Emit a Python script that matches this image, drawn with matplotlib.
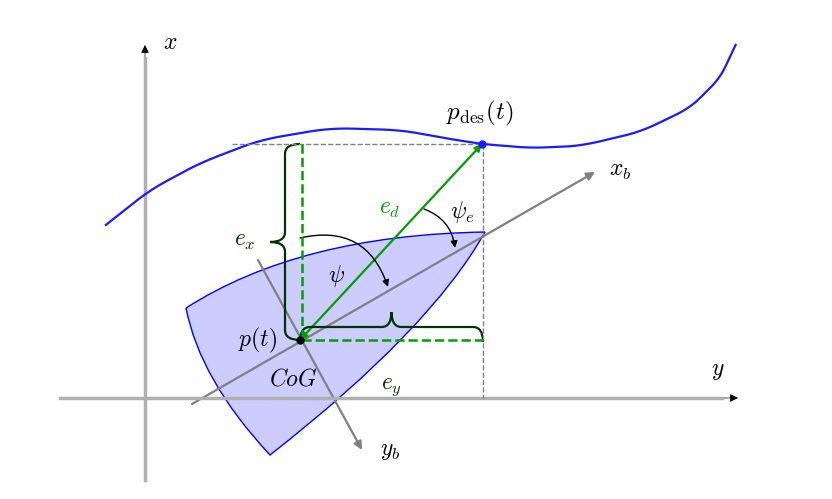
import matplotlib
matplotlib.use("Agg")
import matplotlib.pyplot as plt
import numpy as np
from matplotlib.patches import PathPatch, FancyArrowPatch, Polygon
from matplotlib.path import Path

plt.rcParams['mathtext.fontset'] = 'cm'

curve_x = [102, 150, 200, 260, 330, 400, 450, 482, 530, 580, 640, 690, 720, 737]
curve_y = [228, 190, 163, 140, 128, 130, 139, 144, 148, 146, 132, 108, 78, 42]
cog = (300, 340)
pdes = (482, 144)

fig = plt.figure(figsize=(8.32, 4.99), dpi=100)
ax = fig.add_axes([0, 0, 1, 1])
ax.set_xlim(0, 832); ax.set_ylim(499, 0); ax.axis('off')

def arrow(p0, p1, color, lw=1.6, style='-|>', ms=12, **kw):
    ax.add_patch(FancyArrowPatch(p0, p1, arrowstyle=style, mutation_scale=ms,
                                 color=color, lw=lw, shrinkA=0, shrinkB=0, **kw))

# world axes
ax.plot([145, 145], [480, 58], color='#b0b0b0', lw=2.5)
arrow((145, 62), (145, 45), 'black', lw=0.5)
ax.plot([60, 722], [398, 398], color='#b0b0b0', lw=2.5)
arrow((720, 398), (738, 398), 'black', lw=0.5)
ax.text(170, 42, r'$x$', fontsize=17, va='center', ha='center')
ax.text(718, 370, r'$y$', fontsize=17, va='center', ha='center')

# boat
verts = [(186, 308), (300, 235), (485, 232), (430, 330), (270, 455), (200, 380), (186, 308)]
codes = [Path.MOVETO, Path.CURVE3, Path.CURVE3, Path.CURVE3, Path.CURVE3, Path.CURVE3, Path.CURVE3]
ax.add_patch(PathPatch(Path(verts, codes), facecolor='#ccccff', edgecolor='blue', lw=1))

# path curve
xs = np.array(curve_x, float); ys = np.array(curve_y, float)
t = np.linspace(0, 1, len(xs)); tt = np.linspace(0, 1, 300)
from numpy.polynomial import polynomial as P
cx = np.interp(tt, t, xs); cy = np.interp(tt, t, ys)
k = np.ones(15) / 15
cxs = np.convolve(np.pad(cx, 7, mode='edge'), k, 'valid')
cys = np.convolve(np.pad(cy, 7, mode='edge'), k, 'valid')
ax.plot(cxs, cys, color='#1a1aff', lw=1.6)

# dashed gray
ax.plot([232, 482], [144, 144], '--', color='gray', lw=1)
ax.plot([483, 483], [144, 398], '--', color='gray', lw=1)
# green dashed
ax.plot([302, 302], [144, 340], '--', color='#00a000', lw=1.8)
ax.plot([302, 483], [340, 340], '--', color='#00a000', lw=1.8)

# body axes
arrow((192, 404), (595, 172), 'gray')
arrow((258, 260), (362, 450), 'gray')
ax.text(620, 170, r'$x_b$', fontsize=17, va='center', ha='center')
ax.text(390, 450, r'$y_b$', fontsize=17, va='center', ha='center')

# e_d
arrow(cog, pdes, '#00a000', style='<|-|>', ms=10)
ax.text(390, 208, r'$e_d$', fontsize=17, color='#00a000', va='center', ha='center')

# braces
def brace_v(x, y0, y1, d):
    ym = (y0 + y1) / 2
    v = [(x, y0), (x + d, y0), (x + d, y0 + 10), (x + d, ym - 10), (x + d, ym), (x, ym),
         (x + d, ym), (x + d, ym + 10), (x + d, y1 - 10), (x + d, y1), (x, y1)]
    c = [Path.MOVETO, Path.CURVE3, Path.CURVE3, Path.LINETO, Path.CURVE3, Path.CURVE3,
         Path.MOVETO, Path.CURVE3, Path.CURVE3, Path.LINETO, Path.CURVE3, Path.CURVE3][:1] 
    v = [(x + d * 0 + 22 * 0, y0)]
def brace(p0, p1, depth):
    p0 = np.array(p0, float); p1 = np.array(p1, float)
    u = (p1 - p0) / np.linalg.norm(p1 - p0)
    n = np.array([-u[1], u[0]]) * depth
    L = np.linalg.norm(p1 - p0); m = (p0 + p1) / 2
    r = 10
    pts = [p0, p0 + n * 0.5, p0 + n * 0.5 + u * r, m + n * 0.5 - u * r, m + n * 0.5, m + n,
           m + n * 0.5, m + n * 0.5 + u * r, p1 + n * 0.5 - u * r, p1 + n * 0.5, p1]
    c = [Path.MOVETO, Path.CURVE3, Path.CURVE3, Path.LINETO, Path.CURVE3, Path.CURVE3,
         Path.MOVETO, Path.CURVE3, Path.CURVE3, Path.LINETO, Path.CURVE3, Path.CURVE3]
    pts = pts[:6] + [m + n] + pts[6:]
    c = [Path.MOVETO, Path.CURVE3, Path.CURVE3, Path.LINETO, Path.CURVE3, Path.CURVE3,
         Path.MOVETO, Path.CURVE3, Path.CURVE3, Path.LINETO, Path.CURVE3, Path.CURVE3]
    pts = [p0, p0 + n * 0.5, p0 + n * 0.5 + u * r, m + n * 0.5 - u * r, m + n * 0.5, m + n,
           m + n, m + n * 0.5, m + n * 0.5 + u * r, p1 + n * 0.5 - u * r, p1 + n * 0.5, p1]
    c = [Path.MOVETO, Path.CURVE3, Path.CURVE3, Path.LINETO, Path.CURVE3, Path.CURVE3,
         Path.MOVETO, Path.CURVE3, Path.CURVE3, Path.LINETO, Path.CURVE3, Path.CURVE3]
    # rebuild correctly: second half starts at tip
    pts = [p0, p0 + n * 0.5, p0 + n * 0.5 + u * r, m + n * 0.5 - u * r, m + n * 0.5, m + n,
           m + n, m + n * 0.5, m + n * 0.5 + u * r, p1 + n * 0.5 - u * r, p1 + n * 0.5, p1]
    c = [Path.MOVETO, Path.CURVE3, Path.CURVE3, Path.LINETO, Path.CURVE3, Path.CURVE3,
         Path.MOVETO, Path.CURVE3, Path.CURVE3, Path.LINETO, Path.CURVE3, Path.CURVE3]
    # fix: after MOVETO at tip, curve3 control then end
    pts[7], pts[8] = m + n * 0.5, m + n * 0.5 + u * r
    ax.add_patch(PathPatch(Path(pts, c), fill=False, edgecolor='#003300', lw=1.6))

brace((300, 144), (300, 340), 30)   # left vertical brace
brace((300, 342), (483, 342), -30)  # horizontal brace below
ax.text(245, 240, r'$e_x$', fontsize=17, color='#003300', va='center', ha='center')
ax.text(392, 386, r'$e_y$', fontsize=17, color='#003300', va='center', ha='center')

# angle arcs
arrow((300, 238), (388, 287), 'black', lw=1, style='-|>', ms=10, connectionstyle='arc3,rad=-0.45')
ax.text(336, 276, r'$\psi$', fontsize=17, va='center', ha='center')
arrow((424, 209), (455, 248), 'black', lw=1, style='-|>', ms=10, connectionstyle='arc3,rad=-0.3')
ax.text(462, 212, r'$\psi_e$', fontsize=17, va='center', ha='center')

# points & labels
ax.plot(*cog, 'o', color='black', ms=5)
ax.plot(*pdes, 'o', color='#1a1aff', ms=5)
ax.text(258, 340, r'$p(t)$', fontsize=17, va='center', ha='center')
ax.text(293, 378, r'$CoG$', fontsize=17, va='center', ha='center')
ax.text(480, 113, r'$p_{\mathrm{des}}(t)$', fontsize=18, va='center', ha='center')

fig.savefig('out.png', dpi=100)
